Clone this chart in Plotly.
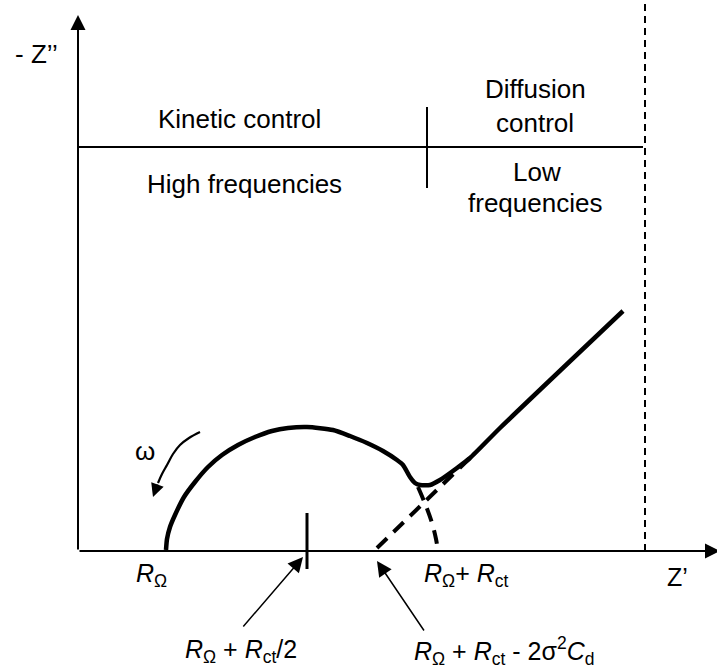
import plotly.graph_objects as go

# ---- data (arbitrary impedance units, read from the schematic) ----
# Nyquist curve: semicircle (kinetic) + Warburg line (diffusion)
curve_zr = [88, 89, 92, 97, 106, 117, 130, 144, 160, 177, 194, 210, 229, 255, 272, 289,
            305, 319, 325, 332, 337, 342, 352, 362, 379, 392, 422, 545]
curve_zi = [1, 12, 24, 36, 54, 69, 84, 96, 106, 114, 120, 123, 124, 121, 115, 108,
            100, 91, 86, 74, 68, 66, 66, 71, 83, 93, 123, 240]
# Dashed continuation of the semicircle down to R_Ω + R_ct
arc_zr = [340, 348, 354, 358, 360]
arc_zi = [64, 45, 28, 12, 0]
# Dashed extrapolation of the Warburg line to the Z' axis
warburg_zr = [299, 392]
warburg_zi = [3, 93]
# Marker at R_Ω + R_ct/2
half_zr = [229, 229]
half_zi = [38, -18]
# ω arrow path
omega_zr = [122, 111, 102, 95, 89, 84, 80]
omega_zi = [119, 113, 106, 97, 86, 77, 68]

FONT = "Arial, Liberation Sans, sans-serif"
BLACK = "#000000"

fig = go.Figure()

fig.add_trace(go.Scatter(x=curve_zr, y=curve_zi, mode="lines",
                         line=dict(color=BLACK, width=4.5, shape="spline", smoothing=0.6),
                         hoverinfo="skip"))
fig.add_trace(go.Scatter(x=arc_zr, y=arc_zi, mode="lines",
                         line=dict(color=BLACK, width=4, dash="14px,9px", shape="spline"),
                         hoverinfo="skip"))
fig.add_trace(go.Scatter(x=warburg_zr, y=warburg_zi, mode="lines",
                         line=dict(color=BLACK, width=4, dash="14px,9px"),
                         hoverinfo="skip"))
fig.add_trace(go.Scatter(x=half_zr, y=half_zi, mode="lines",
                         line=dict(color=BLACK, width=3), hoverinfo="skip"))
fig.add_trace(go.Scatter(x=omega_zr, y=omega_zi, mode="lines",
                         line=dict(color=BLACK, width=2.2, shape="spline"), hoverinfo="skip"))

# region dividers
fig.add_shape(type="line", x0=0, x1=565, y0=404, y1=404, line=dict(color=BLACK, width=2))
fig.add_shape(type="line", x0=349, x1=349, y0=444, y1=363, line=dict(color=BLACK, width=2))
fig.add_shape(type="line", x0=567, x1=567, y0=0, y1=551,
              line=dict(color=BLACK, width=2, dash="7px,5px"))

ann = []
def arrow(x, y, ax, ay, width, size):
    ann.append(dict(x=x, y=y, ax=ax, ay=ay, xref="x", yref="y", axref="x", ayref="y",
                    text="", showarrow=True, arrowhead=2, arrowsize=size,
                    arrowwidth=width, arrowcolor=BLACK, standoff=0))

# axes
arrow(0, 536, 0, 0, 2, 1.5)
arrow(642, 0, 0, 0, 2, 1.5)
# omega arrow head
arrow(75, 54, 80, 68, 2.2, 1.2)
# pointer arrows
arrow(225, -6, 164, -77, 1.5, 2)
arrow(299, -10, 347, -81, 1.5, 2)

def label(x, y, text, size=26):
    ann.append(dict(x=x, y=y, xref="x", yref="y", text=text, showarrow=False,
                    xanchor="center", yanchor="middle",
                    font=dict(family=FONT, size=size, color=BLACK)))

label(-42, 497, "- Z’’")
label(161, 432, "Kinetic control")
label(166, 367, "High frequencies")
label(457, 462, "Diffusion")
label(457, 428, "control")
label(459, 379, "Low")
label(457, 348, "frequencies")
label(67, 100, "ω")
label(73, -24, "<i>R</i><sub>Ω</sub>", 25)
label(388, -24, "<i>R</i><sub>Ω</sub>+ <i>R</i><sub>ct</sub>", 25)
label(599, -26, "Z’", 25)
label(163, -100, "<i>R</i><sub>Ω</sub> + <i>R</i><sub>ct</sub>/2", 25)
label(426, -100, "<i>R</i><sub>Ω</sub> + <i>R</i><sub>ct</sub> - 2σ<sup>2</sup><i>C</i><sub>d</sub>", 25)

fig.update_layout(
    width=717, height=670,
    margin=dict(l=0, r=0, t=0, b=0),
    paper_bgcolor="white", plot_bgcolor="white",
    showlegend=False,
    xaxis=dict(range=[-78, 639], visible=False, fixedrange=True),
    yaxis=dict(range=[-119, 551], visible=False, fixedrange=True),
    annotations=ann,
)

fig.write_html("out.html")
